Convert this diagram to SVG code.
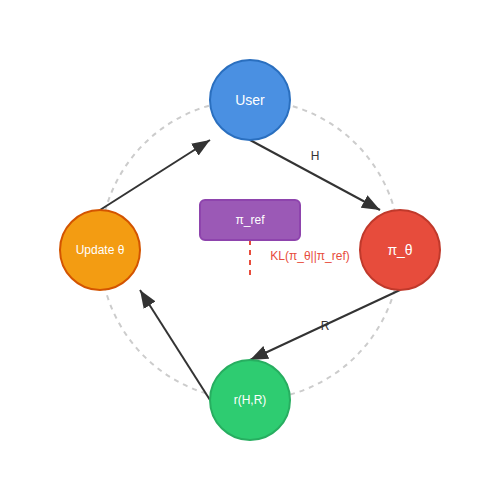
<svg xmlns="http://www.w3.org/2000/svg" width="500" height="500" viewBox="0 0 500 500">
<style>
.lbl{font-family:"Liberation Sans",Arial,sans-serif;text-anchor:middle;dominant-baseline:central}
.node text{fill:#fff}
.edge{stroke:#333;stroke-width:2;fill:none;marker-end:url(#arr)}
.elbl{font-family:"Liberation Sans",Arial,sans-serif;font-size:12px;fill:#333;text-anchor:middle}
</style>
<defs>
<marker id="arr" markerUnits="userSpaceOnUse" markerWidth="18" markerHeight="14" viewBox="0 0 18 14" refX="18" refY="7" orient="auto">
<path d="M0,0 L18,7 L0,14 Z" fill="#333"/>
</marker>
</defs>
<rect width="500" height="500" fill="#fff"/>
<circle cx="250" cy="250" r="150" fill="none" stroke="#ccc" stroke-width="2" stroke-dasharray="5,5"/>
<g id="connectors">
<line class="edge" x1="250" y1="140" x2="380" y2="210"/>
<line class="edge" x1="400" y1="290" x2="250" y2="360"/>
<line class="edge" x1="210" y1="400" x2="140" y2="290"/>
<line class="edge" x1="100" y1="210" x2="210" y2="140"/>
<text class="elbl" x="315" y="160">H</text>
<text class="elbl" x="325" y="330">R</text>
<line x1="250" y1="240" x2="250" y2="277" stroke="#e74c3c" stroke-width="2" stroke-dasharray="5,5"/>
<text class="elbl" x="310" y="260" style="fill:#e74c3c">KL(π_θ||π_ref)</text>
</g>
<g id="user" class="node">
<circle cx="250" cy="100" r="40" fill="#4a90e2" stroke="#2a6fbf" stroke-width="2"/>
<text class="lbl" x="250" y="100" font-size="14">User</text>
</g>
<g id="pi_theta" class="node">
<circle cx="400" cy="250" r="40" fill="#e74c3c" stroke="#c0392b" stroke-width="2"/>
<text class="lbl" x="400" y="250" font-size="14">π_θ</text>
</g>
<g id="reward" class="node">
<circle cx="250" cy="400" r="40" fill="#2ecc71" stroke="#27ae60" stroke-width="2"/>
<text class="lbl" x="250" y="400" font-size="12">r(H,R)</text>
</g>
<g id="update" class="node">
<circle cx="100" cy="250" r="40" fill="#f39c12" stroke="#d35400" stroke-width="2"/>
<text class="lbl" x="100" y="250" font-size="12">Update θ</text>
</g>
<g id="pi_ref" class="node">
<rect x="200" y="200" width="100" height="40" rx="5" fill="#9b59b6" stroke="#8e44ad" stroke-width="2"/>
<text class="lbl" x="250" y="220" font-size="12">π_ref</text>
</g>
</svg>
